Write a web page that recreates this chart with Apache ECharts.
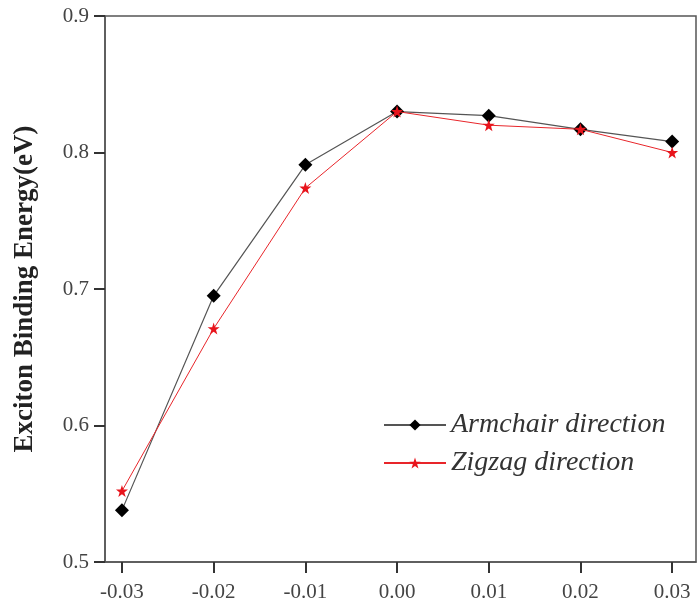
<!DOCTYPE html>
<html>
<head>
<meta charset="utf-8">
<script src="https://cdn.jsdelivr.net/npm/echarts@6/dist/echarts.min.js"></script>
<style>html,body{margin:0;padding:0;background:#fff}#c{width:697px;height:604px}</style>
</head>
<body>
<div id="c"></div>
<script>
const strain = [-0.03, -0.02, -0.01, 0.00, 0.01, 0.02, 0.03];
const armchair = [0.538, 0.695, 0.791, 0.830, 0.827, 0.817, 0.808];
const zigzag = [0.552, 0.671, 0.774, 0.830, 0.820, 0.817, 0.800];
const xTicks = [-0.03, -0.02, -0.01, 0.00, 0.01, 0.02, 0.03];
const seriesNames = ['Armchair direction', 'Zigzag direction'];
const yTitle = 'Exciton Binding Energy(eV)';

const serif = '"Liberation Serif", "DejaVu Serif", serif';
const axisColor = '#555';
const tickColor = '#333';
const chart = echarts.init(document.getElementById('c'), null, {renderer: 'canvas'});
chart.setOption({
  animation: false,
  grid: {left: 105, right: 1, top: 16, bottom: 42, show: true, borderColor: axisColor, borderWidth: 1.5, outerBoundsMode: 'none', containLabel: false},
  legend: {
    orient: 'vertical', left: 378, top: 406, itemWidth: 62, itemHeight: 14, itemGap: 10,
    data: seriesNames,
    textStyle: {fontFamily: serif, fontStyle: 'italic', fontSize: 28, color: '#333'}
  },
  xAxis: {
    type: 'value', min: -0.03185, max: 0.0326,
    splitLine: {show: false},
    axisLine: {show: true, onZero: false, lineStyle: {color: axisColor, width: 1.5}},
    axisTick: {show: true, inside: false, length: 11, customValues: xTicks, lineStyle: {color: tickColor, width: 2}},
    axisLabel: {customValues: xTicks, formatter: v => v.toFixed(2), fontFamily: serif, fontSize: 21, color: '#444', margin: 20}
  },
  yAxis: {
    type: 'value', min: 0.5, max: 0.9, interval: 0.1,
    name: yTitle, nameLocation: 'middle', nameGap: 66,
    nameTextStyle: {fontFamily: serif, fontWeight: 'bold', fontSize: 27, color: '#222'},
    splitLine: {show: false},
    axisLine: {show: true, onZero: false, lineStyle: {color: axisColor, width: 1.5}},
    axisTick: {show: true, inside: false, length: 11, lineStyle: {color: tickColor, width: 2}},
    axisLabel: {formatter: v => v.toFixed(1), fontFamily: serif, fontSize: 21, color: '#444', margin: 16}
  },
  series: [
    {
      name: seriesNames[0], type: 'line', data: strain.map((x, i) => [x, armchair[i]]),
      symbol: 'diamond', symbolSize: 14,
      lineStyle: {color: '#555', width: 1.2},
      itemStyle: {color: '#000'}, z: 2
    },
    {
      name: seriesNames[1], type: 'line', data: strain.map((x, i) => [x, zigzag[i]]),
      symbol: 'path://M50,0 L61.8,35.6 L99,35.6 L69,57.6 L80.3,93.5 L50,71.5 L19.7,93.5 L31,57.6 L1,35.6 L38.2,35.6 Z',
      symbolSize: 12,
      lineStyle: {color: '#e8252a', width: 1},
      itemStyle: {color: '#e8141c'}, z: 3
    }
  ]
});
</script>
</body>
</html>
